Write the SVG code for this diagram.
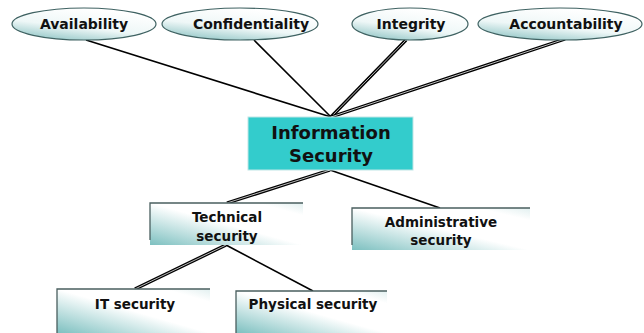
<svg xmlns="http://www.w3.org/2000/svg" width="644" height="333" viewBox="0 0 644 333">
  <defs>
    <linearGradient id="ovalFill" x1="0" y1="1" x2="0.5" y2="0">
      <stop offset="0" stop-color="#7fbcbc"/>
      <stop offset="0.5" stop-color="#eef7f7"/>
      <stop offset="1" stop-color="#ffffff"/>
    </linearGradient>
    <linearGradient id="boxFill" x1="0" y1="1" x2="1" y2="0">
      <stop offset="0" stop-color="#7dc0c0"/>
      <stop offset="0.5" stop-color="#ffffff"/>
      <stop offset="0.85" stop-color="#ffffff"/>
      <stop offset="1" stop-color="#e2f0f0"/>
    </linearGradient>
  </defs>
  <style>
    .oval { fill: url(#ovalFill); stroke: #3f6262; stroke-width: 1.2; }
    .box { fill: url(#boxFill); }
    .edge { stroke: #4a5f5f; stroke-width: 1.3; fill: none; }
    .core { fill: #33cccc; stroke: #bfe6e6; stroke-width: 1; }
    .lbl { font-family: "DejaVu Sans", Verdana, sans-serif; font-weight: bold; fill: #111; text-anchor: middle; }
    .wire { stroke: #000; stroke-width: 1.6; fill: none; }
    .dbl { stroke: #000; stroke-width: 3.4; fill: none; }
    .dblgap { stroke: #bbbbbb; stroke-width: 1; fill: none; }
  </style>

  <!-- connectors -->
  <g id="connectors">
    <line class="wire" x1="86" y1="40" x2="331" y2="117"/>
    <line class="wire" x1="254" y1="40" x2="331" y2="117"/>
    <line class="dbl" x1="406" y1="40" x2="331" y2="117"/>
    <line class="dblgap" x1="406" y1="40" x2="331" y2="117"/>
    <line class="dbl" x1="565" y1="39" x2="331" y2="117"/>
    <line class="dblgap" x1="565" y1="39" x2="331" y2="117"/>
    <line class="dbl" x1="330" y1="170" x2="227" y2="203"/>
    <line class="dblgap" x1="330" y1="170" x2="227" y2="203"/>
    <line class="wire" x1="330" y1="170" x2="440" y2="208"/>
    <line class="dbl" x1="226" y1="245" x2="135" y2="289"/>
    <line class="dblgap" x1="226" y1="245" x2="135" y2="289"/>
    <line class="wire" x1="226" y1="245" x2="313" y2="291"/>
  </g>

  <!-- goals -->
  <g id="availability">
    <ellipse class="oval" cx="84" cy="24" rx="72" ry="16"/>
    <text class="lbl" x="84" y="29" font-size="14">Availability</text>
  </g>
  <g id="confidentiality">
    <ellipse class="oval" cx="240" cy="24" rx="78" ry="16"/>
    <text class="lbl" x="251" y="29" font-size="14">Confidentiality</text>
  </g>
  <g id="integrity">
    <ellipse class="oval" cx="410" cy="24" rx="58" ry="16"/>
    <text class="lbl" x="411" y="29" font-size="14">Integrity</text>
  </g>
  <g id="accountability">
    <ellipse class="oval" cx="560" cy="24" rx="82" ry="16"/>
    <text class="lbl" x="566" y="29" font-size="14">Accountability</text>
  </g>

  <!-- root -->
  <g id="information-security">
    <rect class="core" x="248" y="117" width="165" height="53"/>
    <text class="lbl" x="331" y="139" font-size="18">Information</text>
    <text class="lbl" x="331" y="162" font-size="18">Security</text>
  </g>

  <!-- branches -->
  <g id="technical-security">
    <rect class="box" x="150" y="203" width="153" height="42"/>
    <path class="edge" d="M150 240 V203 H303"/>
    <text class="lbl" x="227" y="222" font-size="13.5">Technical</text>
    <text class="lbl" x="227" y="241" font-size="13.5">security</text>
  </g>
  <g id="administrative-security">
    <rect class="box" x="352" y="208" width="178" height="42"/>
    <path class="edge" d="M352 245 V208 H530"/>
    <text class="lbl" x="441" y="227" font-size="13.5">Administrative</text>
    <text class="lbl" x="441" y="245" font-size="13.5">security</text>
  </g>
  <g id="it-security">
    <rect class="box" x="57" y="289" width="153" height="44"/>
    <path class="edge" d="M57 333 V289 H210"/>
    <text class="lbl" x="135" y="309" font-size="13.5">IT security</text>
  </g>
  <g id="physical-security">
    <rect class="box" x="236" y="291" width="151" height="42"/>
    <path class="edge" d="M236 333 V291 H387"/>
    <text class="lbl" x="313" y="309" font-size="13.5">Physical security</text>
  </g>
</svg>
